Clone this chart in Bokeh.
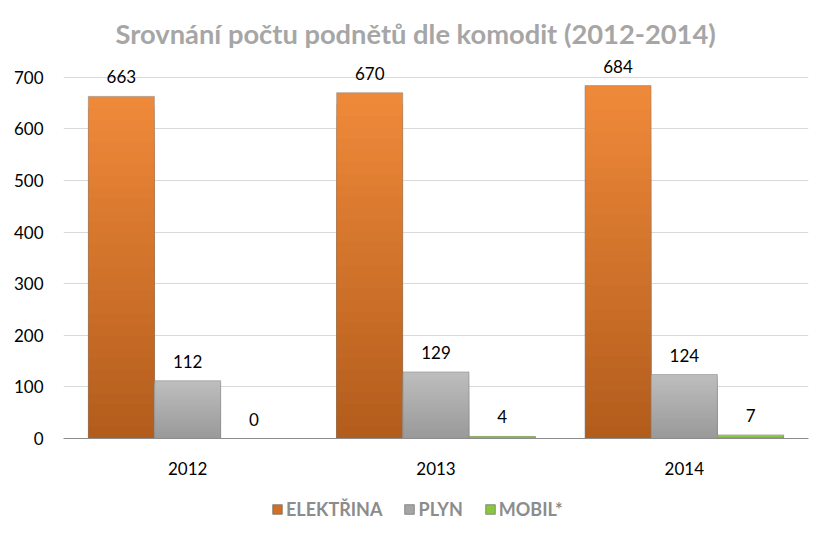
from bokeh.plotting import figure
from bokeh.models import ColumnDataSource, FactorRange, Legend, LegendItem, Title, SingleIntervalTicker
from bokeh.layouts import column
from bokeh.transform import dodge
from bokeh.core.properties import value
from bokeh.embed import file_html
from bokeh.resources import INLINE
import numpy as np

years = ["2012", "2013", "2014"]
series = ["ELEKTŘINA", "PLYN", "MOBIL*"]
elektrina = [663, 670, 684]
plyn = [112, 129, 124]
mobil = [0, 4, 7]

top_colors = ["#F08A3A", "#BEBEBE", "#A6E05A"]
bot_colors = ["#B25C1C", "#999999", "#6FA832"]
legend_colors = ["#D26F25", "#A5A5A5", "#8CC63F"]
offsets = [-0.267, 0.0, 0.267]
W = 0.266

p = figure(x_range=FactorRange(*years), y_range=(0, 750),
           frame_width=745, frame_height=387,
           output_backend="svg", toolbar_location=None,
           min_border_left=63, min_border_right=7, min_border_top=51, min_border_bottom=42)
p.title = Title(text="Srovnání počtu podnětů dle komodit (2012-2014)", align="left", offset=52,
                text_font="Lato", text_font_size="27.3px", text_font_style="bold",
                text_color="#A6A6A6", standoff=3)
p.outline_line_color = None
p.xgrid.grid_line_color = None
p.ygrid.grid_line_color = "#D9D9D9"
p.ygrid.grid_line_width = 1
p.yaxis.ticker = SingleIntervalTicker(interval=100)
p.yaxis.axis_line_color = None
p.yaxis.major_tick_line_color = None
p.yaxis.minor_tick_line_color = None
p.yaxis.major_label_text_font = "Lato"
p.yaxis.major_label_text_font_size = "17px"
p.yaxis.major_label_text_color = "#000000"
p.yaxis.major_label_standoff = 14
p.xaxis.axis_line_color = "#8C8C8C"
p.xaxis.major_tick_line_color = None
p.xaxis.minor_tick_line_color = None
p.xaxis.major_label_text_font = "Lato"
p.xaxis.major_label_text_font_size = "17px"
p.xaxis.major_label_text_color = "#000000"
p.xaxis.major_label_standoff = 17

def hex2rgb(h):
    h = h.lstrip("#")
    return np.array([int(h[i:i+2], 16) for i in (0, 2, 4)], dtype=float)

def rgb2hex(c):
    return "#%02x%02x%02x" % tuple(int(round(v)) for v in c)

N = 30
for vals, off, tc, bc, lc in zip([elektrina, plyn, mobil], offsets, top_colors, bot_colors, legend_colors):
    vals = np.array(vals, dtype=float)
    t = hex2rgb(tc); b = hex2rgb(bc)
    # overlapping slices drawn from tallest to shortest: smooth vertical gradient
    for k in range(N, 0, -1):
        f1 = k / N
        col = rgb2hex(b + (t - b) * (k - 0.5) / N)
        src = ColumnDataSource(dict(x=years, top=(vals * f1).tolist()))
        p.vbar(x=dodge("x", off, range=p.x_range), bottom=0, top="top", width=W,
               source=src, fill_color=col, line_color=None)
    src = ColumnDataSource(dict(x=years, top=vals.tolist(), lab=[str(int(v)) for v in vals]))
    p.vbar(x=dodge("x", off, range=p.x_range), top="top", bottom=0, width=W, source=src,
           fill_alpha=0, line_color="#7F7F7F", line_alpha=0.5, line_width=1)
    p.text(x=dodge("x", off, range=p.x_range), y="top", text="lab", source=src,
           text_align="center", text_baseline="bottom", y_offset=-13,
           text_font_size="17px", text_color="#000000", text_font=value("Lato"))

# legend strip below the chart
lg = figure(width=815, height=45, x_range=(0, 1), y_range=(0, 1),
            output_backend="svg", toolbar_location=None,
            min_border=0)
lg.axis.visible = False
lg.grid.visible = False
lg.outline_line_color = None
items = []
for name, lc in zip(series, legend_colors):
    # legend swatch only; the single point lies outside the visible range
    r = lg.vbar(x=[-10], top=[-10], bottom=[-11], width=0.1, fill_color=lc,
                line_color="#6F6F6F", line_alpha=0.7)
    items.append(LegendItem(label=name, renderers=[r]))
legend = Legend(items=items, orientation="horizontal", location=(208, 5),
                label_text_font="Lato", label_text_font_style="bold", label_text_font_size="18px",
                label_text_color="#8C8C8C", glyph_width=12, glyph_height=12, spacing=21,
                border_line_color=None, background_fill_alpha=0, margin=0, padding=2, label_standoff=3)
lg.add_layout(legend, "center")

open("out.html", "w").write(file_html(column(p, lg, spacing=0), INLINE))
